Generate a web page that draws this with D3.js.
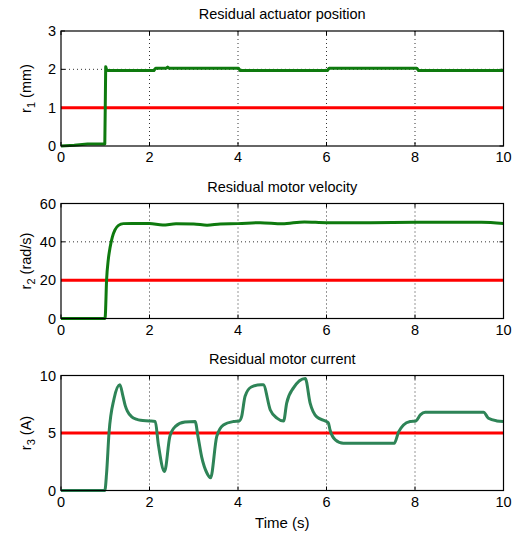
<!DOCTYPE html>
<html>
<head>
<meta charset="utf-8">
<script src="https://cdn.jsdelivr.net/npm/d3@7"></script>
<style>
  body { margin: 0; background: #fff; }
  svg text { font-family: "Liberation Sans", Arial, Helvetica, sans-serif; fill: #000; }
</style>
</head>
<body>
<div id="chart"></div>
<script>
// x ticks shared by all three panels
const timeTicks = [0, 2, 4, 6, 8, 10];

// Residual actuator position (mm)
const r1Time   = [0, 0.3, 0.6, 0.99, 1.0, 1.01, 1.03, 1.06, 2.1, 2.14, 2.38, 2.41, 2.44, 4.01, 4.05, 6.02, 6.06, 8.04, 8.08, 10];
const r1Values = [0, 0.02, 0.05, 0.05, 1.0, 2.07, 1.99, 1.97, 1.97, 2.03, 2.03, 2.06, 2.03, 2.03, 1.97, 1.97, 2.03, 2.03, 1.97, 1.97];
const r1Threshold = 1;
const r1Ticks = [0, 1, 2, 3];

// Residual motor velocity (rad/s)
const r2Time   = [0, 0.99, 1.0, 1.03, 1.07, 1.11, 1.16, 1.22, 1.3, 1.41, 1.6, 2.0, 2.3, 2.6, 3.0, 3.3, 3.6, 4.0, 4.5, 5.0, 5.5, 6.0, 7.0, 8.0, 9.0, 9.5, 10];
const r2Values = [0, 0, 1, 20, 31, 37.2, 42.5, 46.2, 48.6, 49.5, 49.6, 49.6, 48.8, 49.4, 49.3, 48.7, 49.3, 49.5, 50.0, 49.4, 50.4, 50.0, 50.0, 50.2, 50.2, 50.2, 49.6];
const r2Threshold = 20;
const r2Ticks = [0, 20, 40, 60];

// Residual motor current (A)
const r3Time   = [0, 0.99, 1.03, 1.085, 1.2, 1.33, 1.4, 1.45, 1.5, 1.6, 1.7, 1.8, 2.0, 2.13, 2.2, 2.34, 2.46, 2.58, 2.8, 3.03, 3.1, 3.18, 3.3, 3.38, 3.52, 3.67, 3.9, 4.03, 4.08, 4.16, 4.3, 4.52, 4.57, 4.73, 4.88, 5.03, 5.1, 5.25, 5.52, 5.63, 5.78, 5.97, 6.04, 6.08, 6.2, 6.38, 7.53, 7.63, 7.74, 7.89, 8.02, 8.12, 8.23, 9.55, 9.66, 9.85, 10];
const r3Values = [0, 0, 1.5, 5.0, 8.0, 9.2, 8.2, 7.4, 6.9, 6.4, 6.2, 6.1, 6.05, 6.0, 4.0, 1.65, 4.7, 5.55, 5.95, 6.0, 4.6, 2.9, 1.5, 1.1, 4.7, 5.7, 6.0, 6.05, 6.4, 8.2, 9.0, 9.2, 9.2, 7.0, 6.3, 6.05, 7.6, 8.9, 9.75, 7.6, 6.4, 6.05, 5.9, 5.26, 4.4, 4.1, 4.1, 5.1, 5.7, 6.0, 6.05, 6.57, 6.8, 6.8, 6.28, 6.05, 6.0];
const r3Threshold = 5;
const r3Ticks = [0, 5, 10];

const width = 513;
const height = 534;
const plotLeft = 61;
const plotRight = 503.5;

const svg = d3.select('#chart')
  .append('svg')
    .attr('width', width)
    .attr('height', height);

const x = d3.scaleLinear()
    .domain([0, 10])
    .range([plotLeft, plotRight]);

function drawPanel(opts) {
  const y = d3.scaleLinear()
      .domain([opts.yTicks[0], opts.yTicks[opts.yTicks.length - 1]])
      .range([opts.bottom, opts.top]);

  const g = svg.append('g');

  // dotted grid
  g.selectAll('.vgrid')
    .data(timeTicks.slice(1, -1))
    .join('line')
      .attr('x1', d => x(d)).attr('x2', d => x(d))
      .attr('y1', opts.top).attr('y2', opts.bottom)
      .attr('stroke', '#333').attr('stroke-width', 1)
      .attr('stroke-dasharray', '1,3');
  g.selectAll('.hgrid')
    .data(opts.yTicks.slice(1, -1))
    .join('line')
      .attr('x1', plotLeft).attr('x2', plotRight)
      .attr('y1', d => y(d)).attr('y2', d => y(d))
      .attr('stroke', '#333').attr('stroke-width', 1)
      .attr('stroke-dasharray', '1,3');

  // inward ticks on all sides
  const tickLen = 4;
  timeTicks.forEach(t => {
    g.append('line').attr('x1', x(t)).attr('x2', x(t))
      .attr('y1', opts.bottom).attr('y2', opts.bottom - tickLen)
      .attr('stroke', '#000');
    g.append('line').attr('x1', x(t)).attr('x2', x(t))
      .attr('y1', opts.top).attr('y2', opts.top + tickLen)
      .attr('stroke', '#000');
  });
  opts.yTicks.forEach(v => {
    g.append('line').attr('x1', plotLeft).attr('x2', plotLeft + tickLen)
      .attr('y1', y(v)).attr('y2', y(v)).attr('stroke', '#000');
    g.append('line').attr('x1', plotRight).attr('x2', plotRight - tickLen)
      .attr('y1', y(v)).attr('y2', y(v)).attr('stroke', '#000');
  });

  // threshold line
  g.append('line')
    .attr('x1', x(0)).attr('x2', x(10))
    .attr('y1', y(opts.threshold)).attr('y2', y(opts.threshold))
    .attr('stroke', '#ff0000')
    .attr('stroke-width', 3);

  // residual signal
  const line = d3.line()
      .x((d, i) => x(opts.time[i]))
      .y(d => y(d))
      .curve(opts.curve);
  g.append('path')
    .datum(opts.values)
    .attr('d', line)
    .attr('fill', 'none')
    .attr('stroke', opts.color)
    .attr('stroke-width', 3)
    .attr('stroke-linejoin', 'round');

  // frame
  g.append('rect')
    .attr('x', plotLeft).attr('y', opts.top)
    .attr('width', plotRight - plotLeft).attr('height', opts.bottom - opts.top)
    .attr('fill', 'none').attr('stroke', '#000').attr('stroke-width', 1.2);

  // tick labels
  g.selectAll('.xlab')
    .data(timeTicks)
    .join('text')
      .attr('x', d => x(d))
      .attr('y', opts.bottom + 16)
      .attr('text-anchor', 'middle')
      .attr('font-size', 14.5)
      .text(d => d);
  g.selectAll('.ylab')
    .data(opts.yTicks)
    .join('text')
      .attr('x', plotLeft - 5)
      .attr('y', d => y(d) + 5)
      .attr('text-anchor', 'end')
      .attr('font-size', 14.5)
      .text(d => d);

  // title
  g.append('text')
    .attr('x', (plotLeft + plotRight) / 2)
    .attr('y', opts.top - 12)
    .attr('text-anchor', 'middle')
    .attr('font-size', 14.5)
    .text(opts.title);

  // y label with subscript
  const yl = g.append('text')
    .attr('transform', `translate(31,${(opts.top + opts.bottom) / 2}) rotate(-90)`)
    .attr('text-anchor', 'middle')
    .attr('font-size', 14.5);
  yl.append('tspan').text('r');
  yl.append('tspan').attr('font-size', 11).attr('dy', 4).text(opts.sub);
  yl.append('tspan').attr('dy', -4).text(' ' + opts.unit);
}

drawPanel({
  title: 'Residual actuator position', sub: '1', unit: '(mm)',
  top: 31, bottom: 146, yTicks: r1Ticks, threshold: r1Threshold,
  time: r1Time, values: r1Values, color: '#0e7a0e', curve: d3.curveLinear
});
drawPanel({
  title: 'Residual motor velocity', sub: '2', unit: '(rad/s)',
  top: 203.5, bottom: 318.5, yTicks: r2Ticks, threshold: r2Threshold,
  time: r2Time, values: r2Values, color: '#0e7a0e', curve: d3.curveMonotoneX
});
drawPanel({
  title: 'Residual motor current', sub: '3', unit: '(A)',
  top: 375.5, bottom: 490.5, yTicks: r3Ticks, threshold: r3Threshold,
  time: r3Time, values: r3Values, color: '#2e8457', curve: d3.curveMonotoneX
});

// shared x label
svg.append('text')
  .attr('x', (plotLeft + plotRight) / 2)
  .attr('y', 528)
  .attr('text-anchor', 'middle')
  .attr('font-size', 15)
  .text('Time (s)');
</script>
</body>
</html>
